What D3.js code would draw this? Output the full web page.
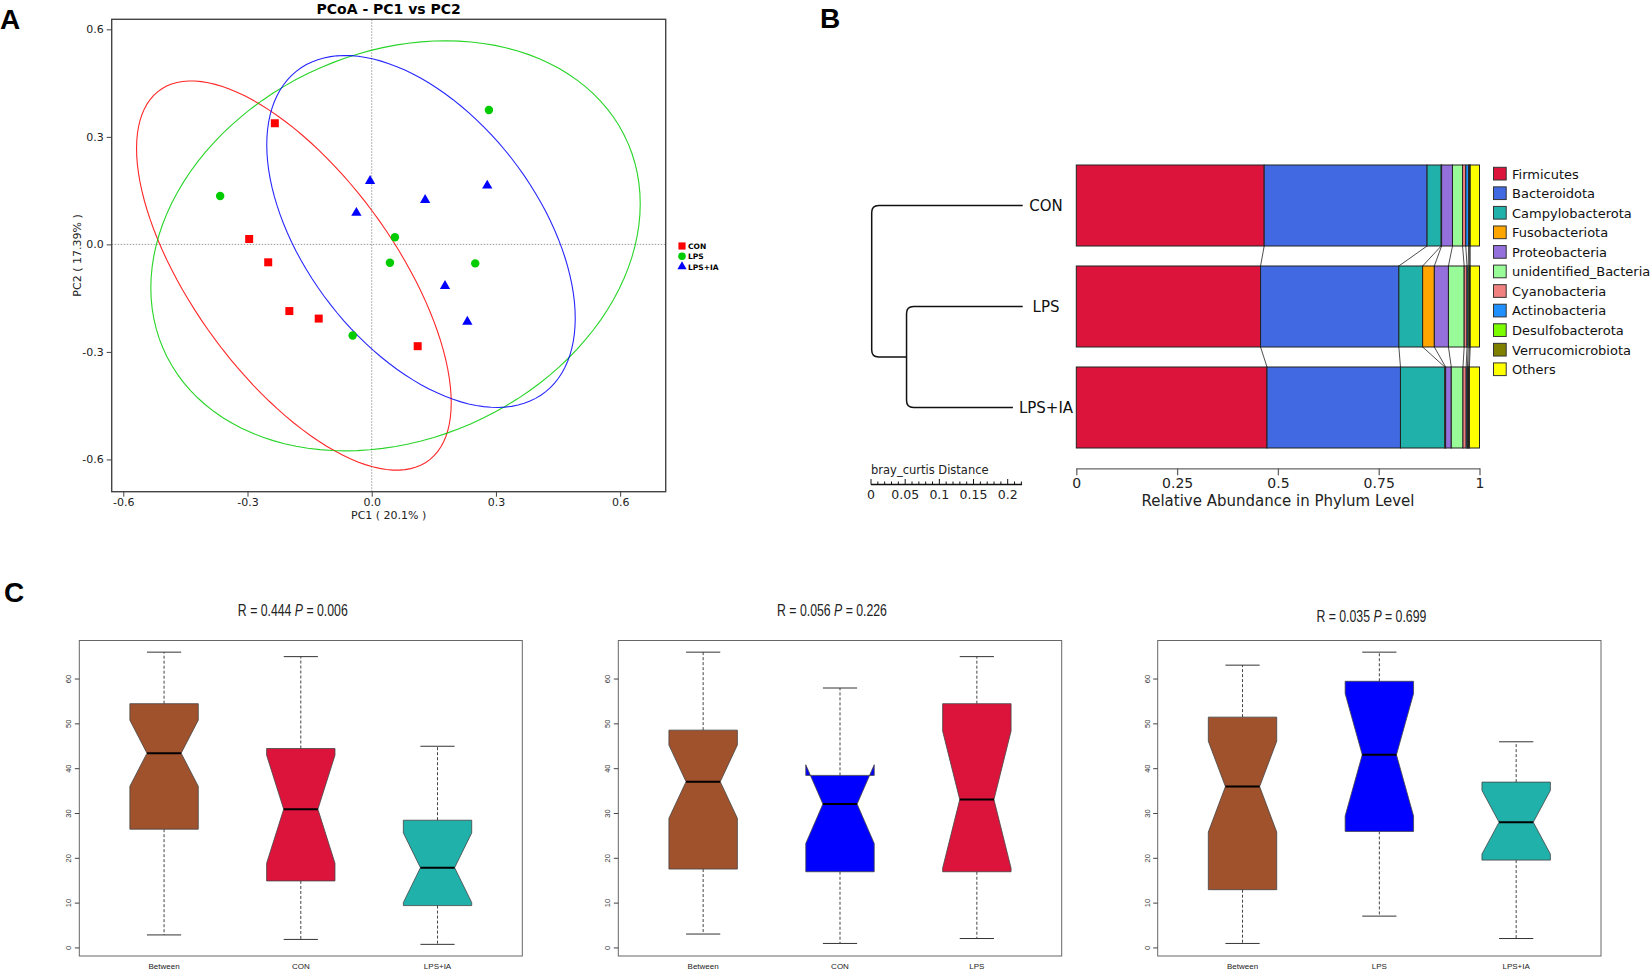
<!DOCTYPE html>
<html>
<head>
<meta charset="utf-8">
<script src="https://cdn.jsdelivr.net/npm/d3@7"></script>
<style>
  body { margin: 0; background: #fff; }
  svg { display: block; }
</style>
</head>
<body>
<div id="fig"></div>
<script>
// ---------- panel A : PCoA scores ----------
var groups = ['CON', 'LPS', 'LPS+IA'];
var conPC1 = [-0.234, -0.296, -0.250, -0.199, -0.128, 0.111];
var conPC2 = [0.338, 0.015, -0.050, -0.186, -0.207, -0.284];
var lpsPC1 = [-0.366, 0.283, 0.056, 0.044, 0.250, -0.046];
var lpsPC2 = [0.135, 0.375, 0.020, -0.051, -0.053, -0.254];
var iaPC1 = [-0.004, -0.037, 0.129, 0.279, 0.177, 0.231];
var iaPC2 = [0.177, 0.088, 0.124, 0.164, -0.116, -0.216];
// ellipse: centre PC1, centre PC2, half width, half height, correlation
var ellCON = [-0.188, -0.087, 0.380, 0.543, -0.653];
var ellLPS = [0.0575, -0.004, 0.591, 0.572, 0.205];
var ellIA = [0.119, 0.036, 0.3725, 0.491, -0.4925];
var pcTicks = [-0.6, -0.3, 0, 0.3, 0.6];

// ---------- panel B : phylum abundance ----------
var samples = ['CON', 'LPS', 'LPS+IA'];
var phyla = ['Firmicutes', 'Bacteroidota', 'Campylobacterota', 'Fusobacteriota', 'Proteobacteria',
  'unidentified_Bacteria', 'Cyanobacteria', 'Actinobacteria', 'Desulfobacterota', 'Verrucomicrobiota', 'Others'];
var phylaColors = ['#DC143C', '#4169E1', '#20B2AA', '#FFA500', '#9370DB',
  '#98FB98', '#F08080', '#1E90FF', '#7CFC00', '#808000', '#FFFF00'];
var abunCON = [0.466, 0.404, 0.035, 0.001, 0.027, 0.025, 0.008, 0.007, 0.002, 0.002, 0.023];
var abunLPS = [0.457, 0.343, 0.059, 0.029, 0.035, 0.039, 0.007, 0.003, 0.003, 0.002, 0.023];
var abunIA = [0.473, 0.331, 0.110, 0.002, 0.014, 0.029, 0.008, 0.003, 0.003, 0.002, 0.025];
var abunTicks = [0, 0.25, 0.5, 0.75, 1];
var distTicks = [0, 0.05, 0.1, 0.15, 0.2];
var mergeLPS_IA = 0.170;
var mergeRoot = 0.221;

// ---------- panel C : ANOSIM rank boxplots ----------
var anosimR = ['0.444', '0.056', '0.035'];
var anosimP = ['0.006', '0.226', '0.699'];
var cmpGroups = [['Between', 'CON', 'LPS+IA'], ['Between', 'CON', 'LPS'], ['Between', 'LPS', 'LPS+IA']];
var cmpColors = [['#A0522D', '#DC143C', '#20B2AA'], ['#A0522D', '#0000FF', '#DC143C'], ['#A0522D', '#0000FF', '#20B2AA']];
// lower whisker, Q1, median, Q3, upper whisker
var rankCON_IA = [[2.9, 26.5, 43.45, 54.5, 66.0], [1.9, 14.95, 30.95, 44.5, 65.0], [0.8, 9.45, 17.9, 28.5, 45.0]];
var rankCON_LPS = [[3.1, 17.6, 37.1, 48.6, 66.0], [1.0, 17.0, 32.1, 38.5, 58.0], [2.1, 17.0, 33.1, 54.5, 65.0]];
var rankLPS_IA = [[1.0, 13.0, 36.0, 51.5, 63.1], [7.1, 26.0, 43.1, 59.5, 66.0], [2.1, 19.6, 28.05, 37.0, 46.0]];
var groupN = [36, 15, 15];
var rankTicks = [0, 10, 20, 30, 40, 50, 60];

var width = 1651, height = 974;

var svg = d3.select('#fig').append('svg')
  .attr('width', width)
  .attr('height', height)
  .style('font-family', '"DejaVu Sans", sans-serif');

svg.append('rect').attr('width', width).attr('height', height).attr('fill', '#fff');

// panel letters
[['A', 0, 29], ['B', 820, 28], ['C', 4, 602]].forEach(function (l) {
  svg.append('text').attr('x', l[1]).attr('y', l[2]).text(l[0])
    .style('font-family', '"Liberation Sans", Arial, sans-serif')
    .style('font-weight', 'bold').style('font-size', '28px');
});

// ================= A =================
var pa = { left: 111.7, right: 665.7, top: 19.3, bottom: 491.7 };
var xA = d3.scaleLinear().domain([-0.628, 0.710]).range([pa.left, pa.right]);
var yA = d3.scaleLinear().domain([-0.690, 0.628]).range([pa.bottom, pa.top]);
var gA = svg.append('g');

gA.append('line').attr('x1', xA(0)).attr('x2', xA(0)).attr('y1', pa.top).attr('y2', pa.bottom)
  .attr('stroke', '#999').attr('stroke-dasharray', '1.5,1.5');
gA.append('line').attr('y1', yA(0)).attr('y2', yA(0)).attr('x1', pa.left).attr('x2', pa.right)
  .attr('stroke', '#999').attr('stroke-dasharray', '1.5,1.5');

var groupColors = ['#FF0000', '#00CC00', '#0000FF'];
var ellLine = d3.line().x(d => xA(d[0])).y(d => yA(d[1])).curve(d3.curveLinearClosed);
[ellCON, ellLPS, ellIA].forEach(function (e, i) {
  var pts = d3.range(0, 360, 3).map(function (deg) {
    var t = deg * Math.PI / 180;
    return [e[0] + e[2] * Math.cos(t),
      e[1] + e[3] * (e[4] * Math.cos(t) + Math.sqrt(1 - e[4] * e[4]) * Math.sin(t))];
  });
  gA.append('path').attr('d', ellLine(pts)).attr('fill', 'none')
    .attr('stroke', groupColors[i]).attr('stroke-width', 1.1).attr('opacity', 0.85);
});

var symTypes = [d3.symbolSquare, d3.symbolCircle, d3.symbolTriangle];
var symSizes = [64, 56, 46];
[[conPC1, conPC2], [lpsPC1, lpsPC2], [iaPC1, iaPC2]].forEach(function (g, i) {
  gA.selectAll('.pt' + i).data(d3.range(g[0].length)).enter()
    .append('path')
    .attr('d', d3.symbol().type(symTypes[i]).size(symSizes[i]))
    .attr('transform', k => `translate(${xA(g[0][k])},${yA(g[1][k])})`)
    .attr('fill', groupColors[i]);
});

gA.append('rect').attr('x', pa.left).attr('y', pa.top)
  .attr('width', pa.right - pa.left).attr('height', pa.bottom - pa.top)
  .attr('fill', 'none').attr('stroke', '#444').attr('stroke-width', 1.4);

var axAx = gA.append('g').attr('transform', `translate(0,${pa.bottom})`)
  .call(d3.axisBottom(xA).tickValues(pcTicks).tickFormat(d => d.toFixed(1)).tickSize(5).tickPadding(1.5).tickSizeOuter(0));
var axAy = gA.append('g').attr('transform', `translate(${pa.left},0)`)
  .call(d3.axisLeft(yA).tickValues(pcTicks).tickFormat(d => d.toFixed(1)).tickSize(5).tickSizeOuter(0));
[axAx, axAy].forEach(function (a) {
  a.select('.domain').remove();
  a.selectAll('line').attr('stroke', '#444');
  a.selectAll('text').style('font-family', '"DejaVu Sans", sans-serif').style('font-size', '11px').attr('fill', '#222');
});

gA.append('text').attr('x', (pa.left + pa.right) / 2).attr('y', 14)
  .attr('text-anchor', 'middle').style('font-weight', 'bold').style('font-size', '14px')
  .text('PCoA - PC1 vs PC2');
gA.append('text').attr('x', (pa.left + pa.right) / 2).attr('y', 519)
  .attr('text-anchor', 'middle').style('font-size', '11px').attr('fill', '#222')
  .text('PC1 ( 20.1% )');
gA.append('text').attr('transform', `translate(81,${(pa.top + pa.bottom) / 2}) rotate(-90)`)
  .attr('text-anchor', 'middle').style('font-size', '11px').attr('fill', '#222')
  .text('PC2 ( 17.39% )');

var legA = gA.append('g').attr('transform', 'translate(682,246)');
groups.forEach(function (g, i) {
  legA.append('path').attr('d', d3.symbol().type(symTypes[i]).size(symSizes[i] * 0.8))
    .attr('transform', `translate(0,${i * 10.3})`).attr('fill', groupColors[i]);
  legA.append('text').attr('x', 6).attr('y', i * 10.3 + 3).text(g)
    .style('font-size', '7.5px').style('font-weight', 'bold');
});

// ================= B =================
var gB = svg.append('g');
var xB = d3.scaleLinear().domain([0, 1]).range([1076.3, 1479.5]);
var yB = d3.scaleBand().domain(samples).range([165, 448]).paddingInner(0.198).paddingOuter(0);
var abun = [abunCON, abunLPS, abunIA];

var stacks = abun.map(function (a) {
  var acc = 0;
  return a.map(function (v) { var s = acc; acc += v; return [s, acc]; });
});

// connectors between adjacent bars
for (var s = 0; s < samples.length - 1; s++) {
  var yTop = yB(samples[s]) + yB.bandwidth();
  var yBot = yB(samples[s + 1]);
  stacks[s].forEach(function (seg, j) {
    if (j === phyla.length - 1) return;
    gB.append('line')
      .attr('x1', xB(seg[1])).attr('y1', yTop)
      .attr('x2', xB(stacks[s + 1][j][1])).attr('y2', yBot)
      .attr('stroke', '#222').attr('stroke-width', 0.8);
  });
}

samples.forEach(function (smp, i) {
  gB.selectAll('.seg' + i).data(stacks[i]).enter().append('rect')
    .attr('x', d => xB(d[0]))
    .attr('width', d => xB(d[1]) - xB(d[0]))
    .attr('y', yB(smp))
    .attr('height', yB.bandwidth())
    .attr('fill', (d, j) => phylaColors[j])
    .attr('stroke', '#222').attr('stroke-width', 1);
});

// axis
var axB = gB.append('g').attr('transform', 'translate(0,468.3)')
  .call(d3.axisBottom(xB).tickValues(abunTicks).tickFormat(d => String(d)).tickSize(7).tickSizeOuter(0));
axB.select('.domain').attr('stroke', '#666').attr('stroke-width', 1.3);
axB.selectAll('line').attr('stroke', '#666').attr('stroke-width', 1.3);
axB.selectAll('text').style('font-family', '"DejaVu Sans", sans-serif').style('font-size', '14px').attr('fill', '#222');
gB.append('text').attr('x', 1278).attr('y', 506).attr('text-anchor', 'middle')
  .style('font-size', '15px').attr('fill', '#222').text('Relative Abundance in Phylum Level');

// legend
phyla.forEach(function (p, i) {
  gB.append('rect').attr('x', 1493.5).attr('y', 167.3 + i * 19.56).attr('width', 12.7).attr('height', 12.7)
    .attr('fill', phylaColors[i]).attr('stroke', '#333').attr('stroke-width', 1);
  gB.append('text').attr('x', 1512).attr('y', 178.5 + i * 19.56).style('font-size', '13px')
    .attr('fill', '#111').text(p);
});

// dendrogram
var labelX = 1046;
var ySam = samples.map(s => yB(s) + yB.bandwidth() / 2);
var leafEnd = [];
samples.forEach(function (smp, i) {
  var t = gB.append('text').attr('x', labelX).attr('y', ySam[i] + 5.5).attr('text-anchor', 'middle')
    .style('font-size', '15px').attr('fill', '#111').text(smp);
  leafEnd.push(Math.min(1022.7, labelX - t.node().getComputedTextLength() / 2 - 6));
});
var xD = d3.scaleLinear().domain([0, mergeRoot]).range([1022.7, 871.7]);
var r = 7;
var x0 = xD(mergeRoot), x1 = xD(mergeLPS_IA);
var yClu = (ySam[1] + ySam[2]) / 2;
var path1 = d3.path();
path1.moveTo(leafEnd[0], ySam[0]);
path1.lineTo(x0 + r, ySam[0]);
path1.quadraticCurveTo(x0, ySam[0], x0, ySam[0] + r);
path1.lineTo(x0, yClu - r);
path1.quadraticCurveTo(x0, yClu, x0 + r, yClu);
path1.lineTo(x1, yClu);
var path2 = d3.path();
path2.moveTo(leafEnd[1], ySam[1]);
path2.lineTo(x1 + r, ySam[1]);
path2.quadraticCurveTo(x1, ySam[1], x1, ySam[1] + r);
path2.lineTo(x1, ySam[2] - r);
path2.quadraticCurveTo(x1, ySam[2], x1 + r, ySam[2]);
path2.lineTo(leafEnd[2], ySam[2]);
[path1, path2].forEach(function (p) {
  gB.append('path').attr('d', p.toString()).attr('fill', 'none').attr('stroke', '#111').attr('stroke-width', 1.5);
});

// distance ruler
var xR = d3.scaleLinear().domain([0, 0.2]).range([871, 1007.7]);
gB.append('text').attr('x', 871).attr('y', 474).style('font-size', '11.5px').attr('fill', '#222')
  .text('bray_curtis Distance');
gB.append('line').attr('x1', xR(0)).attr('x2', xR(0.221)).attr('y1', 484.5).attr('y2', 484.5)
  .attr('stroke', '#111').attr('stroke-width', 1.4);
d3.range(0, 23).forEach(function (k) {
  var v = k * 0.01;
  gB.append('line').attr('x1', xR(v)).attr('x2', xR(v)).attr('y1', 484.5)
    .attr('y2', k % 5 === 0 ? 479 : 481.5).attr('stroke', '#111').attr('stroke-width', 1);
});
distTicks.forEach(function (v) {
  gB.append('text').attr('x', xR(v)).attr('y', 499).attr('text-anchor', 'middle')
    .style('font-size', '12.5px').attr('fill', '#222').text(String(v));
});

// ================= C =================
var panelsC = [
  { left: 79.3, right: 522.3, stats: rankCON_IA, titleY: 616 },
  { left: 618.3, right: 1061.7, stats: rankCON_LPS, titleY: 616 },
  { left: 1157.7, right: 1601, stats: rankLPS_IA, titleY: 622 }
];
var yC = d3.scaleLinear().domain([-1.8, 68.6]).range([956, 640.5]);

panelsC.forEach(function (pc, pi) {
  var g = svg.append('g').style('font-family', '"Liberation Sans", Arial, sans-serif');
  var xC = d3.scaleLinear().domain([0.38, 3.62]).range([pc.left, pc.right]);
  var hw = xC(1.25) - xC(1);

  pc.stats.forEach(function (st, k) {
    var cx = xC(k + 1);
    var iqr = st[3] - st[1];
    var nHi = st[2] + 1.58 * iqr / Math.sqrt(groupN[k]);
    var nLo = st[2] - 1.58 * iqr / Math.sqrt(groupN[k]);
    // whiskers
    [[st[3], st[4]], [st[1], st[0]]].forEach(function (w) {
      g.append('line').attr('x1', cx).attr('x2', cx).attr('y1', yC(w[0])).attr('y2', yC(w[1]))
        .attr('stroke', '#444').attr('stroke-dasharray', '3,2').attr('stroke-width', 1);
      g.append('line').attr('x1', cx - hw / 2).attr('x2', cx + hw / 2).attr('y1', yC(w[1])).attr('y2', yC(w[1]))
        .attr('stroke', '#333').attr('stroke-width', 1);
    });
    var poly = [[-1, st[1]], [1, st[1]], [1, nLo], [0.5, st[2]], [1, nHi], [1, st[3]],
      [-1, st[3]], [-1, nHi], [-0.5, st[2]], [-1, nLo]];
    g.append('polygon')
      .attr('points', poly.map(p => (cx + p[0] * hw) + ',' + yC(p[1])).join(' '))
      .attr('fill', cmpColors[pi][k]).attr('stroke', '#444').attr('stroke-width', 0.8);
    g.append('line').attr('x1', cx - hw / 2).attr('x2', cx + hw / 2).attr('y1', yC(st[2])).attr('y2', yC(st[2]))
      .attr('stroke', '#000').attr('stroke-width', 2);
    g.append('text').attr('x', cx).attr('y', 969).attr('text-anchor', 'middle')
      .style('font-size', '8px').attr('fill', '#222').text(cmpGroups[pi][k]);
  });

  g.append('rect').attr('x', pc.left).attr('y', yC.range()[1])
    .attr('width', pc.right - pc.left).attr('height', yC.range()[0] - yC.range()[1])
    .attr('fill', 'none').attr('stroke', '#666').attr('stroke-width', 1);

  rankTicks.forEach(function (v) {
    g.append('line').attr('x1', pc.left - 4.5).attr('x2', pc.left).attr('y1', yC(v)).attr('y2', yC(v))
      .attr('stroke', '#444');
    g.append('text').attr('transform', `translate(${pc.left - 8},${yC(v)}) rotate(-90)`)
      .attr('text-anchor', 'middle').style('font-size', '7.5px').attr('fill', '#333').text(String(v));
  });

  // title, drawn at natural width and squeezed horizontally like the R output
  var cxT = (pc.left + pc.right) / 2 - 8;
  var tg = g.append('g');
  var t = tg.append('text').attr('x', 0).attr('y', 0)
    .attr('text-anchor', 'middle').style('font-size', '16px').attr('fill', '#222');
  t.append('tspan').text('R = ' + anosimR[pi] + ' ');
  t.append('tspan').style('font-style', 'italic').text('P');
  t.append('tspan').text(' = ' + anosimP[pi]);
  var k = 110 / t.node().getComputedTextLength();
  tg.attr('transform', `translate(${cxT},${pc.titleY}) scale(${k},1)`);
});
</script>
</body>
</html>
